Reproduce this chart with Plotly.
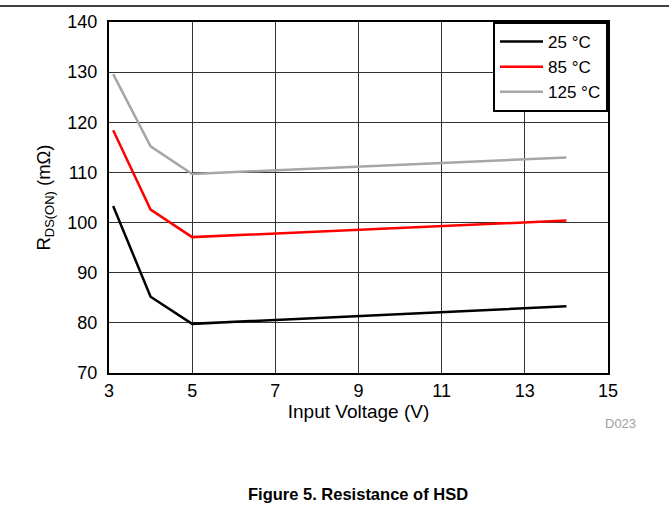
import plotly.graph_objects as go

voltage = [3.1, 4, 5, 14]
r_25 = [103.3, 85.2, 79.8, 83.3]
r_85 = [118.4, 102.6, 97.1, 100.4]
r_125 = [129.6, 115.2, 109.7, 113.0]
series_names = ["25 °C", "85 °C", "125 °C"]
series_colors = ["#000000", "#ff0000", "#a6a6a6"]
x_ticks = [3, 5, 7, 9, 11, 13, 15]
y_ticks = [70, 80, 90, 100, 110, 120, 130, 140]

fig = go.Figure()
for name, vals, col in zip(series_names, [r_25, r_85, r_125], series_colors):
    fig.add_trace(go.Scatter(x=voltage, y=vals, mode="lines", name=name,
                             line=dict(color=col, width=2.5)))

font = "Arial, Liberation Sans, sans-serif"
fig.update_layout(
    width=669, height=508,
    margin=dict(l=109, r=61, t=19, b=135),
    paper_bgcolor="white", plot_bgcolor="white",
    font=dict(family=font, size=18, color="black"),
    showlegend=True,
    legend=dict(x=1, y=1, xanchor="right", yanchor="top",
                bordercolor="black", borderwidth=2, bgcolor="white",
                font=dict(size=17), tracegroupgap=0, itemwidth=43),
    xaxis=dict(range=[3, 15], tickvals=x_ticks, ticks="", showline=True,
               linecolor="black", linewidth=2, mirror=True,
               showgrid=True, gridcolor="#333333", gridwidth=1, zeroline=False,
               tickfont=dict(size=18),
               title=dict(text="Input Voltage (V)", font=dict(size=19), standoff=4)),
    yaxis=dict(range=[70, 140], tickvals=y_ticks, ticks="", showline=True,
               linecolor="black", linewidth=2, mirror=True,
               showgrid=True, gridcolor="#333333", gridwidth=1, zeroline=False,
               tickfont=dict(size=18), ticklabelstandoff=6,
               title=dict(text="R<sub>DS(ON)</sub> (mΩ)", font=dict(size=18.5), standoff=12)),
    shapes=[dict(type="line", xref="paper", yref="paper", x0=-109/499, x1=(669-109)/499,
                 y0=1 + 16/353.6, y1=1 + 16/353.6, line=dict(color="black", width=1.5))],
    annotations=[
        dict(text="D023", xref="paper", yref="paper", x=(620 - 109) / 499, y=-(423 - 372.6) / 353.6,
             xanchor="center", yanchor="middle", showarrow=False,
             font=dict(size=13, color="#a0a0a0")),
        dict(text="<b>Figure 5. Resistance of HSD</b>", xref="paper", yref="paper",
             x=(358 - 109) / 499, y=-(494 - 372.6) / 353.6, xanchor="center", yanchor="middle",
             showarrow=False, font=dict(size=16.5, color="black")),
    ],
)
fig.write_html("out.html", config={"displayModeBar": False},
               post_script="document.body.style.margin='0';document.body.style.overflow='hidden';")
